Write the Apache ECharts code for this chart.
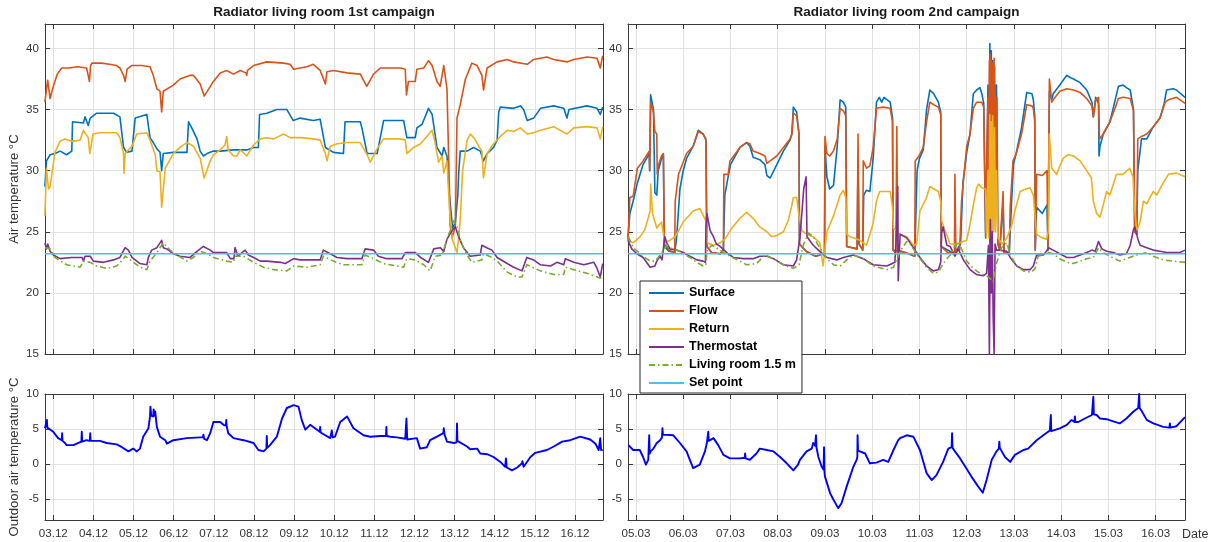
<!DOCTYPE html>
<html>
<head>
<meta charset="utf-8">
<script src="https://cdn.jsdelivr.net/npm/echarts@6.0.0/dist/echarts.min.js"></script>
<style>
html,body{margin:0;padding:0;background:#ffffff;}
#chart{width:1212px;height:542px;}
</style>
</head>
<body>
<div id="chart"></div>
<script>
// ================= DATA =================
const seriesNames = ['Surface', 'Flow', 'Return', 'Thermostat', 'Living room 1.5 m', 'Set point'];
const titles = ['Radiator living room 1st campaign', 'Radiator living room 2nd campaign'];
const yNameUpper = 'Air temperature \u00B0C';
const yNameLower = 'Outdoor air temperature \u00B0C';
const xName = 'Date';
const c1Month = '12';
const c2Month = '03';
const c1Range = [2.793, 16.698];   // day of month, December
const c2Range = [4.831, 16.620];   // day of month, March
const upperRange = [15, 42];
const lowerRange = [-8, 10];
const setPoint = 23.2;

// [day of month, value]
const c1Surface = [[2.79,28.7],[2.83,30.8],[2.92,31.3],[3.04,31.4],[3.17,31.6],[3.33,31.3],[3.46,31.6],[3.48,34.0],[3.75,33.9],[3.79,34.4],[3.87,33.7],[3.92,34.3],[4.08,34.7],[4.5,34.7],[4.66,34.4],[4.75,31.9],[4.83,31.5],[4.96,31.6],[5.04,34.3],[5.33,34.6],[5.41,32.7],[5.49,32.3],[5.58,31.8],[5.66,31.5],[5.70,30.0],[5.74,31.4],[5.99,31.5],[6.33,31.5],[6.37,34.0],[6.45,33.5],[6.58,32.6],[6.66,31.6],[6.74,31.2],[6.83,31.4],[6.99,31.6],[7.16,31.6],[7.49,31.7],[7.82,31.7],[7.99,31.9],[8.11,31.9],[8.14,34.6],[8.32,34.7],[8.57,35.0],[8.82,35.0],[8.98,34.1],[9.15,34.3],[9.48,34.1],[9.65,34.2],[9.69,34.3],[9.78,31.9],[9.98,31.5],[10.23,31.4],[10.27,34.0],[10.65,34.0],[10.69,33.5],[10.82,31.4],[11.07,31.4],[11.23,34.1],[11.73,34.1],[11.81,32.7],[12.02,32.7],[12.06,33.5],[12.19,33.8],[12.35,35.1],[12.44,34.6],[12.56,31.9],[12.69,31.2],[12.73,31.9],[12.81,31.2],[12.87,28.0],[12.95,25.3],[13.02,25.8],[13.08,28.0],[13.10,29.7],[13.14,31.6],[13.31,31.6],[13.47,31.9],[13.64,31.6],[13.72,30.8],[13.81,31.4],[13.97,31.9],[14.06,32.5],[14.10,34.8],[14.14,35.2],[14.47,35.1],[14.64,35.3],[14.72,35.0],[14.81,34.1],[14.97,34.3],[15.14,35.1],[15.47,35.3],[15.72,35.1],[15.80,34.3],[15.85,35.0],[16.3,35.3],[16.55,35.1],[16.63,34.6],[16.69,35.2]];
const c1Flow = [[2.79,35.6],[2.86,37.4],[2.92,35.9],[3.0,36.9],[3.1,37.9],[3.21,38.4],[3.4,38.4],[3.6,38.5],[3.83,38.4],[3.9,37.3],[3.93,38.6],[3.96,38.8],[4.2,38.8],[4.4,38.7],[4.58,38.6],[4.66,38.4],[4.75,37.8],[4.79,37.3],[4.84,38.3],[4.95,38.6],[5.2,38.6],[5.41,38.5],[5.49,37.8],[5.58,36.7],[5.66,36.5],[5.70,34.8],[5.74,36.5],[5.99,37.0],[6.16,37.5],[6.41,37.8],[6.49,37.8],[6.66,37.1],[6.76,36.1],[6.99,37.3],[7.16,38.0],[7.32,38.2],[7.49,37.9],[7.66,38.2],[7.80,38.0],[7.82,37.8],[7.84,38.2],[7.99,38.6],[8.32,38.9],[8.74,38.8],[8.9,38.7],[8.99,38.3],[9.15,38.4],[9.32,38.5],[9.48,38.7],[9.65,38.2],[9.78,37.1],[9.82,38.1],[9.98,38.2],[10.32,38.0],[10.65,37.9],[10.81,36.9],[10.98,37.9],[11.15,38.4],[11.65,38.4],[11.77,38.3],[11.80,36.2],[11.85,37.3],[12.02,37.3],[12.06,38.3],[12.23,38.4],[12.35,39.0],[12.44,38.6],[12.56,37.3],[12.64,36.9],[12.73,38.6],[12.81,36.7],[12.86,30.0],[12.89,25.5],[12.94,24.5],[13.02,25.5],[13.06,34.3],[13.14,35.4],[13.27,37.5],[13.43,38.8],[13.56,38.6],[13.68,37.8],[13.72,36.6],[13.81,38.4],[14.06,38.9],[14.31,39.1],[14.47,38.9],[14.81,38.7],[14.97,39.1],[15.3,39.3],[15.47,39.1],[15.8,38.9],[15.97,39.1],[16.3,39.3],[16.55,39.2],[16.63,38.4],[16.69,39.4]];
const c1Return = [[2.79,26.3],[2.83,30.2],[2.88,28.5],[2.92,28.7],[2.96,28.6],[3.04,31.5],[3.17,32.4],[3.29,32.6],[3.46,32.4],[3.67,32.5],[3.75,33.3],[3.87,32.7],[3.91,31.4],[3.99,33.0],[4.16,33.1],[4.58,33.1],[4.66,32.7],[4.75,31.4],[4.76,29.8],[4.79,31.4],[4.96,32.0],[5.08,33.0],[5.33,33.1],[5.41,32.5],[5.54,31.3],[5.58,30.0],[5.66,29.9],[5.70,27.0],[5.79,30.2],[5.99,31.4],[6.16,31.9],[6.33,32.3],[6.49,32.0],[6.66,31.0],[6.76,29.4],[6.91,30.8],[6.99,31.3],[7.16,31.7],[7.28,32.1],[7.32,32.8],[7.36,31.7],[7.49,31.2],[7.57,31.2],[7.66,31.7],[7.82,31.2],[7.99,32.1],[8.16,32.6],[8.32,32.7],[8.49,32.6],[8.74,33.0],[8.9,32.7],[9.15,32.7],[9.48,32.6],[9.65,32.5],[9.78,31.4],[9.82,30.8],[9.9,32.0],[10.07,32.2],[10.32,32.3],[10.65,32.3],[10.82,31.3],[10.9,30.7],[11.07,31.8],[11.23,32.6],[11.65,32.6],[11.77,32.5],[11.81,31.4],[11.98,31.9],[12.15,32.2],[12.31,32.8],[12.44,33.3],[12.52,32.2],[12.6,30.7],[12.69,31.2],[12.73,29.8],[12.81,30.8],[12.87,27.0],[12.94,24.4],[13.06,23.3],[13.1,24.5],[13.14,26.0],[13.2,30.0],[13.31,32.5],[13.39,33.0],[13.5,32.6],[13.6,32.0],[13.68,31.6],[13.72,29.4],[13.81,31.4],[13.97,32.2],[14.14,32.8],[14.31,33.3],[14.47,33.2],[14.64,33.5],[14.81,33.0],[14.97,33.1],[15.14,33.3],[15.47,33.6],[15.8,33.0],[15.97,33.5],[16.3,33.6],[16.55,33.5],[16.63,32.6],[16.69,33.6]];
const c1Thermostat = [[2.79,24.1],[2.83,23.6],[2.86,24.0],[2.92,23.4],[3.0,23.1],[3.17,22.8],[3.46,22.9],[3.72,22.9],[3.75,22.6],[3.79,23.0],[3.92,23.0],[4.0,22.6],[4.25,22.5],[4.5,22.7],[4.66,22.9],[4.79,23.7],[4.87,23.5],[4.96,22.9],[5.16,22.4],[5.33,22.3],[5.37,22.9],[5.45,23.5],[5.58,23.7],[5.70,24.3],[5.74,23.7],[5.83,23.6],[5.91,23.4],[5.99,23.2],[6.16,23.0],[6.41,22.9],[6.58,23.4],[6.74,23.8],[6.91,23.5],[6.99,23.3],[7.32,23.3],[7.41,22.8],[7.50,22.8],[7.53,23.7],[7.60,23.0],[7.70,23.3],[7.78,23.5],[7.86,23.1],[7.99,22.9],[8.16,22.6],[8.32,22.6],[8.66,22.5],[8.78,22.4],[8.99,22.8],[9.15,22.7],[9.48,22.7],[9.65,22.7],[9.73,23.5],[9.90,23.2],[10.07,22.9],[10.32,22.8],[10.69,22.8],[10.77,23.6],[10.98,23.5],[11.10,23.0],[11.31,22.8],[11.69,22.8],[11.77,23.3],[12.02,23.3],[12.15,22.9],[12.35,22.5],[12.48,23.6],[12.64,23.7],[12.73,23.4],[12.81,24.4],[12.94,25.1],[13.02,25.4],[13.10,24.6],[13.22,23.7],[13.39,23.0],[13.64,23.1],[13.68,23.9],[13.80,23.7],[13.93,23.5],[14.06,22.9],[14.31,22.4],[14.47,22.1],[14.68,21.8],[14.80,22.9],[14.97,22.7],[15.14,22.3],[15.39,22.2],[15.55,22.5],[15.72,22.3],[15.76,22.8],[15.97,22.5],[16.22,22.3],[16.47,22.5],[16.55,22.0],[16.63,21.3],[16.69,22.4]];
const c1Living = [[2.79,23.7],[2.92,23.6],[3.04,22.9],[3.33,22.3],[3.67,22.1],[3.75,22.6],[3.92,22.5],[4.08,22.2],[4.33,22.0],[4.58,22.2],[4.75,22.8],[4.79,23.0],[4.96,22.6],[5.16,22.1],[5.33,21.9],[5.41,22.6],[5.58,23.3],[5.74,24.1],[5.91,23.5],[6.08,23.1],[6.33,22.6],[6.49,22.9],[6.66,23.4],[6.83,23.2],[6.99,22.9],[7.32,22.6],[7.49,22.5],[7.53,23.0],[7.74,23.0],[7.99,22.5],[8.24,22.1],[8.49,21.9],[8.82,21.8],[8.99,22.2],[9.32,22.1],[9.65,22.3],[9.73,23.0],[9.98,22.6],[10.23,22.3],[10.69,22.3],[10.77,23.1],[10.98,22.8],[11.23,22.4],[11.73,22.1],[11.81,22.8],[12.02,22.7],[12.23,22.3],[12.39,21.8],[12.52,23.0],[12.69,23.1],[12.81,24.4],[12.98,25.9],[13.06,25.4],[13.14,24.3],[13.31,23.1],[13.43,22.5],[13.68,22.7],[13.72,23.2],[13.93,22.9],[14.06,22.6],[14.31,21.7],[14.56,21.3],[14.68,21.3],[14.80,22.3],[15.14,21.8],[15.47,21.5],[15.72,21.5],[15.76,22.1],[15.97,21.9],[16.30,21.6],[16.63,21.2],[16.69,21.4]];
const c1Outdoor = [[2.79,5.1],[2.83,5.3],[2.84,6.3],[2.85,5.2],[2.88,5.1],[3.0,4.6],[3.12,3.7],[3.21,3.4],[3.22,4.4],[3.23,3.3],[3.29,3.0],[3.33,2.7],[3.50,2.7],[3.70,3.2],[3.71,4.6],[3.72,3.2],[3.83,3.4],[3.91,3.3],[3.92,4.4],[3.93,3.3],[4.16,3.3],[4.33,3.0],[4.58,2.8],[4.71,2.4],[4.87,1.8],[4.99,2.2],[5.08,1.8],[5.16,2.2],[5.24,3.9],[5.37,5.1],[5.41,6.8],[5.42,8.2],[5.44,6.9],[5.49,6.8],[5.50,7.8],[5.52,6.9],[5.54,7.5],[5.58,5.3],[5.66,3.9],[5.79,3.4],[5.83,2.9],[5.99,3.4],[6.33,3.7],[6.66,3.8],[6.73,3.8],[6.74,4.2],[6.76,3.6],[6.83,3.4],[6.91,4.4],[6.99,6.0],[7.16,6.0],[7.24,5.6],[7.30,5.5],[7.31,6.3],[7.32,5.4],[7.36,4.4],[7.49,3.7],[7.74,3.4],[7.99,3.0],[8.11,2.0],[8.24,1.8],[8.31,2.2],[8.32,4.0],[8.33,2.3],[8.40,2.7],[8.57,3.9],[8.70,6.5],[8.82,8.0],[8.99,8.4],[9.11,8.2],[9.19,6.3],[9.28,4.9],[9.40,5.6],[9.64,4.6],[9.65,5.3],[9.66,4.5],[9.90,3.7],[9.94,4.8],[9.96,3.8],[10.02,3.9],[10.15,6.0],[10.32,6.8],[10.48,5.1],[10.73,4.1],[10.90,3.9],[11.15,4.0],[11.29,4.0],[11.30,5.3],[11.31,4.0],[11.40,3.9],[11.56,3.8],[11.77,3.6],[11.80,6.5],[11.82,3.5],[11.85,3.5],[12.06,3.7],[12.14,2.2],[12.31,2.4],[12.39,3.4],[12.56,3.9],[12.72,4.4],[12.73,5.1],[12.75,4.2],[12.81,3.2],[12.98,3.0],[13.05,3.1],[13.06,5.8],[13.07,3.3],[13.10,3.4],[13.31,2.5],[13.39,2.1],[13.56,2.2],[13.64,1.5],[13.81,1.4],[13.97,1.0],[14.14,0.3],[14.26,-0.4],[14.28,0.8],[14.30,-0.5],[14.43,-0.9],[14.56,-0.5],[14.68,0.1],[14.69,0.4],[14.72,-0.4],[14.89,1.0],[15.01,1.6],[15.30,2.0],[15.47,2.5],[15.68,3.2],[15.88,3.4],[16.13,3.9],[16.38,3.5],[16.51,2.9],[16.59,2.0],[16.62,2.0],[16.63,3.7],[16.65,2.0],[16.69,2.0]];

const c2Surface = [[4.83,24.5],[4.87,26.5],[4.94,27.5],[5.03,29.0],[5.15,30.5],[5.28,31.4],[5.29,30.0],[5.31,36.2],[5.37,35.0],[5.40,28.2],[5.44,28.0],[5.47,30.0],[5.54,31.0],[5.58,31.2],[5.60,23.8],[5.70,23.4],[5.82,23.3],[5.86,24.5],[5.93,28.5],[6.0,30.0],[6.07,31.0],[6.21,32.0],[6.32,33.3],[6.42,33.0],[6.48,32.6],[6.50,23.8],[6.60,23.3],[6.78,23.2],[6.85,23.5],[6.88,28.0],[6.95,29.5],[7.0,30.5],[7.20,31.9],[7.34,32.3],[7.41,32.0],[7.48,31.1],[7.62,30.9],[7.73,30.5],[7.77,29.6],[7.84,29.4],[7.98,30.5],[8.12,31.6],[8.26,32.5],[8.30,33.0],[8.33,35.2],[8.40,34.8],[8.45,33.0],[8.46,24.0],[8.60,23.4],[8.80,23.0],[8.99,23.2],[9.0,32.0],[9.04,29.5],[9.10,28.5],[9.18,28.8],[9.26,32.0],[9.32,35.8],[9.39,35.6],[9.44,35.2],[9.46,23.8],[9.68,23.6],[9.70,31.0],[9.72,24.0],[9.80,23.5],[9.82,28.0],[9.88,28.4],[9.95,28.3],[10.02,31.0],[10.09,35.6],[10.15,36.0],[10.20,35.6],[10.25,36.0],[10.38,35.6],[10.43,34.3],[10.44,23.5],[10.70,23.3],[10.90,23.0],[10.95,30.0],[11.0,31.0],[11.08,31.7],[11.15,35.0],[11.22,36.6],[11.30,36.3],[11.40,35.6],[11.45,34.8],[11.46,23.8],[11.74,23.2],[11.77,23.4],[11.87,24.0],[11.92,29.0],[12.0,31.5],[12.07,33.0],[12.14,36.3],[12.21,36.6],[12.28,36.8],[12.32,36.3],[12.36,35.5],[12.40,24.5],[12.45,37.0],[12.47,26.0],[12.49,40.4],[12.50,28.0],[12.52,39.8],[12.53,27.0],[12.55,39.0],[12.57,28.0],[12.59,38.5],[12.61,27.0],[12.63,37.0],[12.66,24.0],[12.70,23.5],[12.77,27.5],[12.79,23.3],[12.90,23.2],[12.95,27.5],[12.99,30.5],[13.05,31.5],[13.16,33.5],[13.27,36.4],[13.38,36.3],[13.41,35.8],[13.44,34.5],[13.45,23.5],[13.48,27.0],[13.60,26.5],[13.70,27.2],[13.72,23.5],[13.74,23.4],[13.75,36.5],[13.80,35.8],[13.83,36.3],[13.97,37.0],[14.06,37.5],[14.12,37.8],[14.20,37.6],[14.26,37.5],[14.40,37.2],[14.54,36.6],[14.65,35.6],[14.68,34.4],[14.73,36.0],[14.79,35.5],[14.80,31.2],[14.82,32.0],[14.89,33.0],[15.03,34.0],[15.10,35.1],[15.21,36.9],[15.31,37.0],[15.38,36.8],[15.46,36.6],[15.53,35.0],[15.555,25.0],[15.60,24.8],[15.62,30.0],[15.70,32.6],[15.81,32.6],[15.95,33.6],[16.09,34.3],[16.18,35.5],[16.23,36.6],[16.37,36.7],[16.44,36.6],[16.62,36.0]];
const c2Flow = [[4.83,24.3],[4.87,27.8],[4.94,27.9],[5.03,30.2],[5.15,30.8],[5.28,31.6],[5.29,30.0],[5.31,35.6],[5.37,34.8],[5.40,33.2],[5.44,33.0],[5.45,29.7],[5.47,30.4],[5.54,31.2],[5.58,31.4],[5.60,24.0],[5.70,23.5],[5.82,23.3],[5.83,27.5],[5.90,29.7],[5.95,30.2],[6.07,31.4],[6.21,32.0],[6.32,33.2],[6.42,33.0],[6.48,32.5],[6.50,23.8],[6.60,23.3],[6.78,23.2],[6.85,23.5],[6.86,29.7],[6.95,29.7],[6.99,30.8],[7.20,31.9],[7.34,32.3],[7.41,32.2],[7.48,31.6],[7.62,31.4],[7.73,31.2],[7.77,30.6],[7.84,30.8],[7.98,31.2],[8.12,31.9],[8.26,32.6],[8.30,33.0],[8.33,34.7],[8.40,34.5],[8.45,33.0],[8.46,24.0],[8.60,23.4],[8.80,23.0],[8.99,23.2],[9.0,32.8],[9.04,31.4],[9.10,31.2],[9.18,31.6],[9.26,32.6],[9.32,35.1],[9.39,34.9],[9.44,34.5],[9.46,23.8],[9.68,23.6],[9.70,33.0],[9.72,24.0],[9.80,23.5],[9.81,30.8],[9.88,30.2],[9.95,30.4],[10.02,31.9],[10.09,35.1],[10.23,35.2],[10.38,35.1],[10.43,34.0],[10.44,23.5],[10.50,23.2],[10.52,33.6],[10.54,23.5],[10.70,23.3],[10.90,23.0],[10.91,30.8],[10.99,31.2],[11.08,31.9],[11.15,34.0],[11.22,35.6],[11.30,35.4],[11.40,35.2],[11.45,34.6],[11.46,23.8],[11.60,23.3],[11.74,23.2],[11.75,29.7],[11.77,23.4],[11.85,23.5],[11.89,27.5],[12.0,32.0],[12.07,33.0],[12.14,35.1],[12.21,35.6],[12.32,35.6],[12.36,35.2],[12.40,25.0],[12.45,36.0],[12.46,25.0],[12.48,39.0],[12.49,24.0],[12.50,39.5],[12.51,27.0],[12.52,39.0],[12.53,25.0],[12.545,38.8],[12.56,26.0],[12.58,39.2],[12.59,27.0],[12.60,37.0],[12.62,28.0],[12.64,36.0],[12.66,24.0],[12.70,23.5],[12.77,28.3],[12.79,23.3],[12.90,23.2],[12.92,27.0],[12.98,30.8],[13.05,31.4],[13.16,33.0],[13.27,35.4],[13.38,35.3],[13.41,35.1],[13.44,34.0],[13.45,23.5],[13.48,29.7],[13.60,29.6],[13.70,30.0],[13.72,23.5],[13.74,23.4],[13.75,37.5],[13.80,35.6],[13.83,35.8],[13.97,36.5],[14.12,36.7],[14.26,36.6],[14.40,36.4],[14.54,35.9],[14.65,35.3],[14.68,34.4],[14.73,35.8],[14.79,36.0],[14.81,32.6],[14.89,33.0],[15.03,34.0],[15.14,35.1],[15.21,35.9],[15.31,36.0],[15.46,35.9],[15.53,34.9],[15.555,25.0],[15.60,24.8],[15.62,32.6],[15.70,32.8],[15.81,33.0],[15.95,33.6],[16.09,34.3],[16.20,35.6],[16.27,35.8],[16.44,36.0],[16.62,35.5]];
const c2Return = [[4.83,24.3],[4.94,24.1],[5.09,24.6],[5.19,25.2],[5.30,26.7],[5.31,28.9],[5.35,26.5],[5.44,25.3],[5.54,25.8],[5.61,24.1],[5.72,24.3],[5.83,24.6],[5.93,25.3],[6.0,25.8],[6.21,26.7],[6.35,26.9],[6.48,25.9],[6.51,24.1],[6.64,23.9],[6.78,24.1],[6.88,24.4],[7.03,25.3],[7.20,26.1],[7.34,26.6],[7.48,26.1],[7.62,25.4],[7.77,25.0],[7.87,24.6],[7.98,24.7],[8.12,25.0],[8.22,25.9],[8.29,27.0],[8.33,27.8],[8.40,27.8],[8.45,26.3],[8.51,25.1],[8.61,24.8],[8.75,24.6],[8.89,24.1],[8.96,22.2],[9.04,25.0],[9.18,26.3],[9.32,28.0],[9.39,28.4],[9.44,27.8],[9.46,24.8],[9.53,24.6],[9.74,24.3],[9.88,23.9],[10.02,25.7],[10.09,27.5],[10.13,28.0],[10.16,28.3],[10.38,28.3],[10.43,27.0],[10.45,25.3],[10.59,24.8],[10.73,24.6],[10.87,23.9],[10.94,24.0],[11.01,26.7],[11.15,27.8],[11.22,28.7],[11.40,28.3],[11.45,27.5],[11.47,25.9],[11.54,25.1],[11.65,24.0],[11.79,24.0],[11.93,24.2],[12.0,24.3],[12.07,25.6],[12.14,27.2],[12.21,28.6],[12.25,28.9],[12.32,28.6],[12.40,28.5],[12.42,24.5],[12.45,30.0],[12.47,24.5],[12.49,34.6],[12.50,24.5],[12.52,34.0],[12.53,25.0],[12.55,34.5],[12.57,25.0],[12.59,33.5],[12.61,25.0],[12.63,30.0],[12.66,24.5],[12.75,24.0],[12.85,24.5],[12.95,25.5],[13.02,26.7],[13.13,28.3],[13.25,28.5],[13.34,28.6],[13.41,28.0],[13.44,26.5],[13.48,24.8],[13.60,24.5],[13.69,24.4],[13.73,25.1],[13.748,33.0],[13.80,30.2],[13.90,29.7],[14.04,31.0],[14.15,31.3],[14.26,31.2],[14.40,30.8],[14.54,30.0],[14.64,29.4],[14.68,27.5],[14.75,26.5],[14.82,26.2],[14.89,27.2],[14.96,28.3],[15.03,28.0],[15.17,29.7],[15.31,29.7],[15.45,30.2],[15.52,29.5],[15.55,27.0],[15.60,25.1],[15.67,25.8],[15.74,27.5],[15.81,27.3],[15.95,28.3],[16.02,28.0],[16.16,29.0],[16.27,29.7],[16.44,29.8],[16.62,29.5]];
const c2Thermostat = [[4.83,24.3],[4.91,23.6],[5.02,23.2],[5.15,22.9],[5.30,22.1],[5.40,22.2],[5.44,22.6],[5.51,23.0],[5.55,22.7],[5.58,23.6],[5.61,24.6],[5.65,24.1],[5.72,23.6],[5.86,23.5],[6.0,23.3],[6.14,23.0],[6.29,22.7],[6.42,22.6],[6.47,22.5],[6.48,25.3],[6.50,26.5],[6.57,25.1],[6.64,24.6],[6.70,24.0],[6.78,23.8],[6.92,23.3],[7.06,22.9],[7.27,22.8],[7.48,22.8],[7.62,23.0],[7.77,23.0],[7.91,22.8],[8.12,22.3],[8.33,22.2],[8.40,22.7],[8.47,24.5],[8.55,28.5],[8.60,29.5],[8.62,24.6],[8.75,23.9],[8.89,23.4],[9.04,22.9],[9.25,22.7],[9.39,22.9],[9.60,23.1],[9.81,22.8],[10.02,22.3],[10.31,22.2],[10.48,22.5],[10.51,24.7],[10.54,28.7],[10.55,21.0],[10.59,24.8],[10.73,24.5],[10.87,23.7],[11.01,22.9],[11.15,22.2],[11.29,21.8],[11.40,21.9],[11.45,22.5],[11.47,24.9],[11.50,25.4],[11.54,25.4],[11.58,23.9],[11.65,23.8],[11.75,23.0],[11.82,23.6],[11.93,22.7],[12.07,21.9],[12.21,21.5],[12.35,21.4],[12.42,21.6],[12.46,23.9],[12.48,15.0],[12.50,26.0],[12.52,20.0],[12.54,25.0],[12.56,18.0],[12.58,15.0],[12.60,24.0],[12.63,23.5],[12.70,23.5],[12.85,23.4],[12.92,22.9],[13.06,22.2],[13.20,21.9],[13.34,21.9],[13.41,22.2],[13.48,23.1],[13.62,23.1],[13.69,23.4],[13.73,23.7],[13.83,23.5],[13.97,23.2],[14.12,22.9],[14.26,22.9],[14.40,23.1],[14.54,23.3],[14.65,23.5],[14.72,23.4],[14.79,24.2],[14.86,23.6],[14.96,23.4],[15.10,23.3],[15.24,23.1],[15.38,23.2],[15.46,23.9],[15.53,25.2],[15.56,25.4],[15.63,24.3],[15.67,23.9],[15.81,23.7],[15.95,23.5],[16.09,23.4],[16.23,23.3],[16.51,23.3],[16.62,23.5]];
const c2Living = [[4.84,24.6],[4.94,23.7],[5.15,23.0],[5.30,22.6],[5.40,22.6],[5.47,22.9],[5.58,23.5],[5.65,23.9],[5.76,23.6],[5.93,23.4],[6.14,22.9],[6.29,22.5],[6.42,22.2],[6.48,22.3],[6.50,23.4],[6.60,23.9],[6.70,23.7],[6.85,23.3],[6.99,23.0],[7.20,22.6],[7.34,22.3],[7.55,22.4],[7.73,23.1],[7.91,22.8],[8.12,22.3],[8.33,22.0],[8.45,22.3],[8.54,23.9],[8.65,24.9],[8.75,24.6],[8.89,23.7],[9.04,22.8],[9.18,22.3],[9.32,22.2],[9.46,22.7],[9.60,23.1],[9.81,22.8],[10.02,22.2],[10.31,21.9],[10.45,22.1],[10.59,23.4],[10.73,24.2],[10.80,24.0],[10.87,23.6],[11.01,22.8],[11.15,22.1],[11.29,21.6],[11.40,21.7],[11.50,22.4],[11.65,23.1],[11.75,23.8],[11.82,24.2],[11.89,23.6],[12.0,22.6],[12.14,22.0],[12.28,21.6],[12.42,21.4],[12.49,21.2],[12.56,20.9],[12.63,22.4],[12.74,23.7],[12.85,24.1],[12.92,23.1],[13.06,22.2],[13.20,21.8],[13.37,21.7],[13.45,22.0],[13.51,23.0],[13.62,23.1],[13.73,23.3],[13.83,23.2],[13.97,22.8],[14.12,22.5],[14.26,22.4],[14.40,22.6],[14.54,22.8],[14.68,22.9],[14.79,23.7],[14.89,23.3],[15.03,23.0],[15.24,22.6],[15.45,22.9],[15.60,23.1],[15.81,23.3],[15.95,23.0],[16.16,22.7],[16.37,22.6],[16.62,22.5]];
const c2Outdoor = [[4.84,2.7],[4.94,2.0],[5.08,2.0],[5.15,1.0],[5.21,-0.1],[5.26,0.6],[5.275,0.7],[5.28,4.1],[5.29,1.5],[5.31,1.8],[5.37,2.2],[5.44,3.0],[5.51,3.4],[5.55,3.8],[5.56,5.1],[5.57,4.2],[5.61,4.4],[5.79,4.1],[5.93,3.0],[6.07,1.8],[6.14,0.6],[6.21,-0.6],[6.35,-0.1],[6.46,1.8],[6.50,3.0],[6.52,3.2],[6.53,4.6],[6.54,3.3],[6.57,3.4],[6.64,3.7],[6.74,2.7],[6.85,1.3],[6.99,0.8],[7.20,0.8],[7.30,0.9],[7.31,1.5],[7.32,0.8],[7.41,0.6],[7.55,1.5],[7.62,2.2],[7.77,2.0],[7.91,1.8],[8.05,1.0],[8.19,0.1],[8.33,-0.9],[8.43,-0.1],[8.47,0.6],[8.61,1.8],[8.72,2.2],[8.75,3.0],[8.79,2.6],[8.81,4.1],[8.82,2.4],[8.86,1.0],[8.93,-0.4],[8.97,-0.8],[8.98,2.4],[8.99,-1.2],[9.0,-1.8],[9.11,-4.2],[9.18,-5.1],[9.28,-6.3],[9.35,-5.6],[9.46,-3.2],[9.53,-1.8],[9.60,-0.4],[9.67,0.6],[9.685,1.0],[9.69,4.1],[9.70,1.9],[9.72,2.0],[9.85,1.5],[9.95,0.1],[10.09,0.2],[10.23,0.6],[10.34,0.3],[10.45,2.0],[10.55,3.4],[10.59,3.7],[10.73,4.1],[10.87,3.9],[11.01,2.0],[11.15,-1.3],[11.26,-2.3],[11.36,-1.6],[11.50,0.3],[11.61,2.2],[11.68,2.4],[11.69,4.4],[11.70,2.3],[11.75,1.8],[11.86,0.8],[11.99,-0.6],[12.10,-1.8],[12.24,-3.2],[12.34,-4.1],[12.42,-2.3],[12.53,0.6],[12.63,1.8],[12.68,2.2],[12.69,3.2],[12.70,2.3],[12.74,2.2],[12.81,1.0],[12.92,0.3],[13.02,1.3],[13.20,2.0],[13.30,2.2],[13.48,3.4],[13.62,4.1],[13.76,4.8],[13.77,4.8],[13.78,7.0],[13.79,4.7],[13.83,4.6],[13.97,5.1],[14.12,5.6],[14.22,6.3],[14.28,6.0],[14.29,6.8],[14.30,6.0],[14.36,6.0],[14.50,6.5],[14.65,7.0],[14.67,7.0],[14.68,9.6],[14.69,7.1],[14.75,7.0],[14.82,6.5],[14.96,6.4],[15.10,6.1],[15.24,5.8],[15.38,6.5],[15.53,7.5],[15.63,8.0],[15.64,8.1],[15.65,10.0],[15.66,8.0],[15.70,7.6],[15.81,6.3],[15.95,5.8],[16.16,5.3],[16.29,5.2],[16.30,5.8],[16.31,5.2],[16.44,5.4],[16.62,6.7]];

// ================= STYLE =================
const FONT = '"Liberation Sans", Arial, Helvetica, sans-serif';
const AXIS_COLOR = '#3a3a3a';
const LABEL_COLOR = '#333333';
const GRID_COLOR = '#e2e2e2';
const COLORS = {
  'Surface': '#0072BD',
  'Flow': '#D95319',
  'Return': '#EDB120',
  'Thermostat': '#7E2F8E',
  'Living room 1.5 m': '#77AC30',
  'Set point': '#4DBEEE'
};
const OUTDOOR_COLOR = '#0000FF';

const grids = [
  { left: 45, top: 22, width: 558, height: 332 },
  { left: 628, top: 22, width: 557, height: 332 },
  { left: 45, top: 394, width: 558, height: 126 },
  { left: 628, top: 394, width: 557, height: 126 }
];

function pad2(n) { return (n < 10 ? '0' : '') + n; }
function dayFormatter(month) {
  return function (v) {
    const r = Math.round(v);
    return Math.abs(v - r) < 1e-6 ? pad2(r) + '.' + month : '';
  };
}
function stepFormatter(step) {
  return function (v) {
    const r = Math.round(v / step) * step;
    return Math.abs(v - r) < 1e-6 ? String(r) : '';
  };
}

function xAxisDef(gridIndex, range, month, position, showLabel, extra) {
  return Object.assign({
    type: 'value', gridIndex: gridIndex, position: position,
    min: range[0], max: range[1], splitNumber: 14, minInterval: 1, maxInterval: 1,
    axisLine: { show: true, onZero: false, lineStyle: { color: AXIS_COLOR, width: 1 } },
    axisTick: { show: true, inside: true, length: 5, lineStyle: { color: AXIS_COLOR, width: 1 } },
    axisLabel: { show: showLabel, formatter: dayFormatter(month), color: LABEL_COLOR,
      fontSize: 11.6, fontFamily: FONT, margin: 8 },
    splitLine: { show: position === 'bottom', lineStyle: { color: GRID_COLOR, width: 1 } }
  }, extra || {});
}
function yAxisDef(gridIndex, range, splitNumber, position, showLabel, extra) {
  return Object.assign({
    type: 'value', gridIndex: gridIndex, position: position,
    min: range[0], max: range[1], splitNumber: splitNumber, minInterval: 5, maxInterval: 5,
    axisLine: { show: true, onZero: false, lineStyle: { color: AXIS_COLOR, width: 1 } },
    axisTick: { show: true, inside: true, length: 5, lineStyle: { color: AXIS_COLOR, width: 1 } },
    axisLabel: { show: showLabel, formatter: stepFormatter(5), color: LABEL_COLOR,
      fontSize: 11.6, fontFamily: FONT, margin: 6 },
    splitLine: { show: position === 'left', lineStyle: { color: GRID_COLOR, width: 1 } }
  }, extra || {});
}

const titleName = (t) => ({
  name: t, nameLocation: 'middle', nameGap: 5,
  nameTextStyle: { fontFamily: FONT, fontWeight: 'bold', fontSize: 13.5, color: '#1a1a1a', verticalAlign: 'bottom' }
});
const yName = (t) => ({
  name: t, nameLocation: 'middle', nameGap: 24, nameRotate: 90,
  nameTextStyle: { fontFamily: FONT, fontSize: 13.2, color: '#333333' }
});

const xAxes = [
  xAxisDef(0, c1Range, c1Month, 'bottom', false),
  xAxisDef(1, c2Range, c2Month, 'bottom', false),
  xAxisDef(2, c1Range, c1Month, 'bottom', true),
  xAxisDef(3, c2Range, c2Month, 'bottom', true, {
    name: xName, nameLocation: 'end', nameGap: -3,
    nameTextStyle: { fontFamily: FONT, fontSize: 12.5, color: '#333333', align: 'left', verticalAlign: 'top', padding: [8, 0, 0, 0] }
  }),
  xAxisDef(0, c1Range, c1Month, 'top', false, titleName(titles[0])),
  xAxisDef(1, c2Range, c2Month, 'top', false, titleName(titles[1])),
  xAxisDef(2, c1Range, c1Month, 'top', false),
  xAxisDef(3, c2Range, c2Month, 'top', false)
];
const yAxes = [
  yAxisDef(0, upperRange, 5, 'left', true, yName(yNameUpper)),
  yAxisDef(1, upperRange, 5, 'left', true),
  yAxisDef(2, lowerRange, 4, 'left', true, yName(yNameLower)),
  yAxisDef(3, lowerRange, 4, 'left', true),
  yAxisDef(0, upperRange, 5, 'right', false),
  yAxisDef(1, upperRange, 5, 'right', false),
  yAxisDef(2, lowerRange, 4, 'right', false),
  yAxisDef(3, lowerRange, 4, 'right', false)
];

function line(name, data, axisIndex, color, width, dash) {
  return {
    type: 'line', name: name, data: data,
    xAxisIndex: axisIndex, yAxisIndex: axisIndex,
    symbol: 'none', showSymbol: false, smooth: false,
    lineStyle: { color: color, width: width, type: dash || 'solid', cap: 'butt', join: 'round' },
    itemStyle: { color: color },
    emphasis: { disabled: true },
    animation: false, clip: true
  };
}

const DASHDOT = [6, 3, 1.5, 3];
const campaignUpper = [
  { idx: 0, range: c1Range, data: [c1Surface, c1Flow, c1Return, c1Thermostat, c1Living] },
  { idx: 1, range: c2Range, data: [c2Surface, c2Flow, c2Return, c2Thermostat, c2Living] }
];
const series = [];
campaignUpper.forEach(function (c) {
  for (let i = 0; i < 5; i++) {
    const name = seriesNames[i];
    series.push(line(name, c.data[i], c.idx, COLORS[name], 1.6, i === 4 ? DASHDOT : 'solid'));
  }
  series.push(line(seriesNames[5], [[c.range[0], setPoint], [c.range[1], setPoint]], c.idx, COLORS['Set point'], 1.6));
});
series.push(line('Outdoor', c1Outdoor, 2, OUTDOOR_COLOR, 1.9));
series.push(line('Outdoor', c2Outdoor, 3, OUTDOOR_COLOR, 1.9));

const option = {
  backgroundColor: '#ffffff',
  animation: false,
  textStyle: { fontFamily: FONT },
  grid: grids,
  xAxis: xAxes,
  yAxis: yAxes,
  legend: {
    data: seriesNames,
    orient: 'vertical',
    left: 640, top: 281,
    padding: [5, 6, 3, 8],
    itemGap: 4, itemWidth: 35, itemHeight: 2,
    backgroundColor: '#ffffff',
    borderColor: '#262626', borderWidth: 1, borderRadius: 0,
    selectedMode: false,
    textStyle: { fontFamily: FONT, fontWeight: 'bold', fontSize: 12.5, color: '#000000', lineHeight: 14 },
    z: 10
  },
  series: series
};

const chart = echarts.init(document.getElementById('chart'), null, { renderer: 'canvas' });
chart.setOption(option);
</script>
</body>
</html>
